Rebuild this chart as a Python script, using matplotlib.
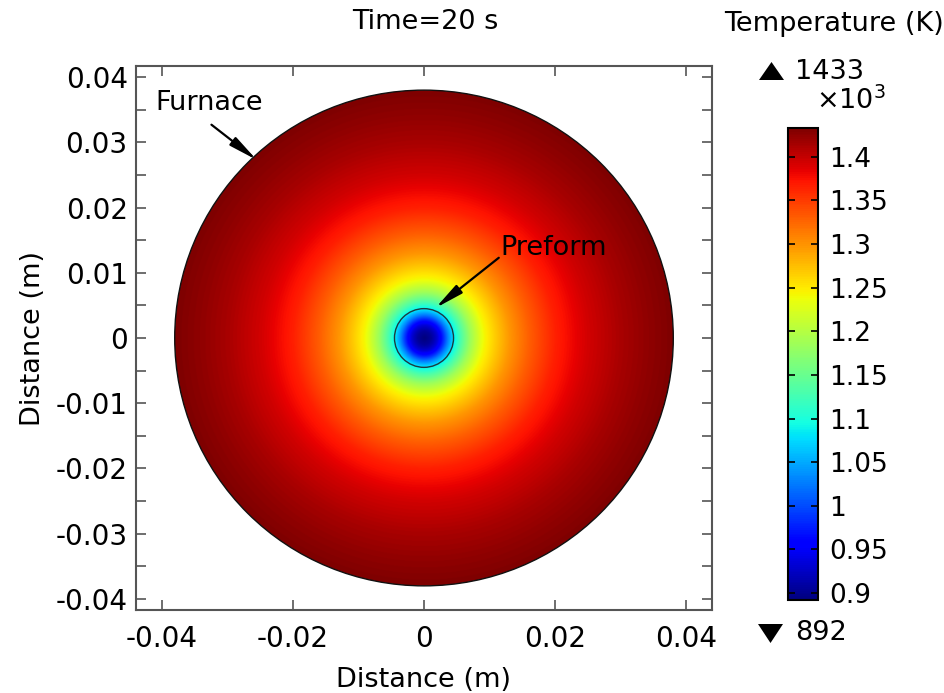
import numpy as np
import matplotlib
matplotlib.use("Agg")
import matplotlib.pyplot as plt
from matplotlib.patches import Circle, Polygon
from matplotlib.ticker import FixedLocator, FixedFormatter

# radial temperature profile (m, K)
r_profile = [0.0, 0.001, 0.0015, 0.002, 0.0026, 0.003, 0.0035, 0.004, 0.0045,
             0.0055, 0.007, 0.009, 0.011, 0.013, 0.016, 0.020, 0.025, 0.030,
             0.034, 0.038]
T_profile = [892, 905, 918, 935, 965, 990, 1025, 1055, 1085,
             1130, 1185, 1240, 1270, 1298, 1330, 1366, 1394, 1413,
             1424, 1433]

furnace_radius = 0.038
preform_radius = 0.0045
T_min, T_max = 892, 1433

x_ticks = [-0.04, -0.02, 0, 0.02, 0.04]
x_ticklabels = ['-0.04', '-0.02', '0', '0.02', '0.04']
y_ticks = [-0.04, -0.03, -0.02, -0.01, 0, 0.01, 0.02, 0.03, 0.04]
y_ticklabels = ['-0.04', '-0.03', '-0.02', '-0.01', '0', '0.01', '0.02', '0.03', '0.04']
y_minor = [-0.035, -0.025, -0.015, -0.005, 0.005, 0.015, 0.025, 0.035]
cbar_ticks = [900, 950, 1000, 1050, 1100, 1150, 1200, 1250, 1300, 1350, 1400]
cbar_ticklabels = ['0.9', '0.95', '1', '1.05', '1.1', '1.15', '1.2', '1.25', '1.3', '1.35', '1.4']

plt.rcParams['font.family'] = ['DejaVu Sans']
plt.rcParams['font.size'] = 19
plt.rcParams['axes.unicode_minus'] = False

W, H = 945, 693
FS = 19.5


def px(x, y):
    # pixel position -> figure fraction
    return x / W, 1 - y / H


fig = plt.figure(figsize=(W / 100, H / 100), dpi=100)
ax = fig.add_axes([136 / W, 1 - 610 / H, 576 / W, 544 / H])

n = 900
g = np.linspace(-furnace_radius, furnace_radius, n)
X, Y = np.meshgrid(g, g)
T = np.interp(np.hypot(X, Y), r_profile, T_profile)

im = ax.imshow(T, extent=[-furnace_radius, furnace_radius, -furnace_radius, furnace_radius],
               origin='lower', cmap='jet', vmin=T_min, vmax=T_max,
               interpolation='bilinear', aspect='auto')
clip = Circle((0, 0), furnace_radius, transform=ax.transData)
im.set_clip_path(clip)

ax.add_patch(Circle((0, 0), furnace_radius, fill=False, ec='#111111', lw=1.0))
ax.add_patch(Circle((0, 0), preform_radius, fill=False, ec='#1d3a40', lw=1.0))

ax.set_xlim(-0.0439, 0.0439)
ax.set_ylim(-0.0417, 0.0417)

ax.xaxis.set_major_locator(FixedLocator(x_ticks))
ax.xaxis.set_major_formatter(FixedFormatter(x_ticklabels))
ax.yaxis.set_major_locator(FixedLocator(y_ticks))
ax.yaxis.set_major_formatter(FixedFormatter(y_ticklabels))
ax.yaxis.set_minor_locator(FixedLocator(y_minor))
ax.tick_params(which='both', direction='in', length=7, width=1.2, color='#555555',
               top=True, right=True, labelsize=20)
ax.tick_params(axis='x', pad=11)
ax.tick_params(axis='y', pad=6)
for s in ax.spines.values():
    s.set_color('#555555')
    s.set_linewidth(1.5)

ax.set_xlabel('Distance (m)', fontsize=FS, labelpad=10)
ax.set_ylabel('Distance (m)', fontsize=FS, labelpad=7)

ax.text(-0.0409, 0.0360, 'Furnace', fontsize=FS, ha='left', va='center')
ax.annotate('', xy=(-0.0255, 0.0273), xytext=(-0.0324, 0.0327),
            arrowprops=dict(arrowstyle='-|>,head_width=0.16,head_length=0.9',
                            color='black', lw=1.6, shrinkA=0, shrinkB=0))
ax.text(0.0117, 0.0138, 'Preform', fontsize=FS, ha='left', va='center')
ax.annotate('', xy=(0.00175, 0.0046), xytext=(0.0114, 0.0123),
            arrowprops=dict(arrowstyle='-|>,head_width=0.16,head_length=0.9',
                            color='black', lw=1.6, shrinkA=0, shrinkB=0))

# colour legend
cax = fig.add_axes([788 / W, 1 - 600 / H, 30 / W, 472 / H])
cb = fig.colorbar(im, cax=cax, ticks=cbar_ticks)
cb.ax.set_yticklabels(cbar_ticklabels)
cb.outline.set_linewidth(1.5)
cb.ax.tick_params(direction='in', length=5, width=1.2, left=True, right=True,
                  labelsize=19, pad=8)

fig.text(*px(425, 22), 'Time=20 s', ha='center', va='center', fontsize=FS)
fig.text(*px(834, 24), 'Temperature (K)', ha='center', va='center', fontsize=FS)

up = Polygon([px(759, 80), px(784, 80), px(771.5, 62)], closed=True,
             transform=fig.transFigure, fc='black', ec='none')
down = Polygon([px(758, 624), px(783, 624), px(770.5, 643)], closed=True,
               transform=fig.transFigure, fc='black', ec='none')
fig.add_artist(up)
fig.add_artist(down)
fig.text(*px(795, 72), '1433', ha='left', va='center', fontsize=FS)
fig.text(*px(816, 101), r'$\times$10$^3$', ha='left', va='center', fontsize=FS)
fig.text(*px(795, 633), '892', ha='left', va='center', fontsize=FS)

fig.savefig('out.png', dpi=100)
